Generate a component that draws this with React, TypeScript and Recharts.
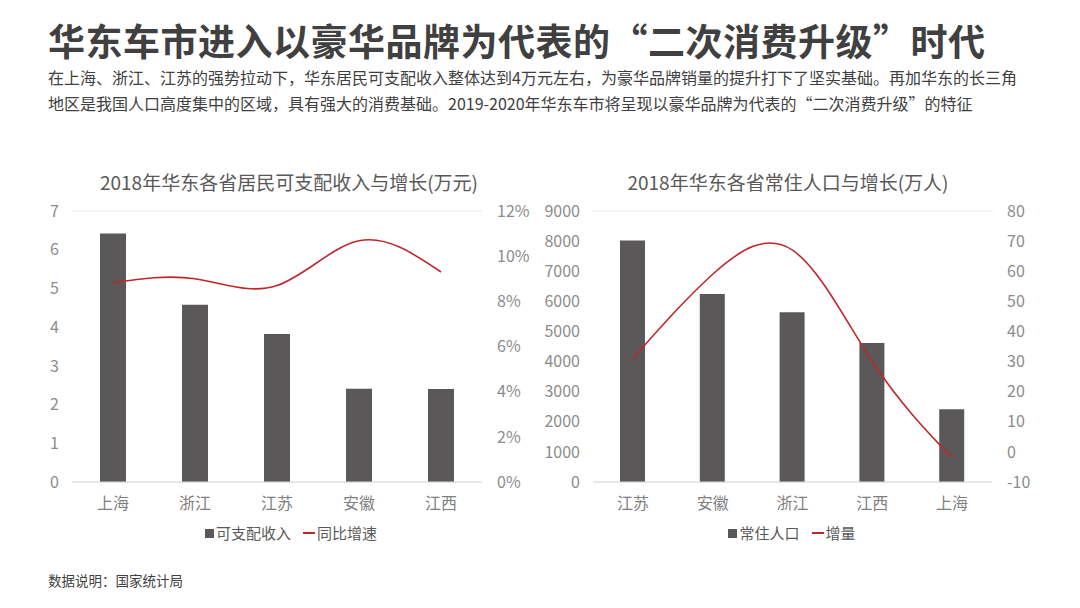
import React from "react";
import {
  ComposedChart,
  Bar,
  Line,
  XAxis,
  YAxis,
  CartesianGrid,
} from "recharts";

// 收入图
const incomeProvinces = ["上海", "浙江", "江苏", "安徽", "江西"];
const incomeValues = [6.42, 4.58, 3.82, 2.41, 2.4];
const incomeGrowth = [0.0882, 0.09, 0.087, 0.1068, 0.093];
const incomeTicks = [0, 1, 2, 3, 4, 5, 6, 7];
const growthTicks = [0, 0.02, 0.04, 0.06, 0.08, 0.1, 0.12];

// 人口图
const popProvinces = ["江苏", "安徽", "浙江", "江西", "上海"];
const popValues = [8020, 6240, 5640, 4620, 2420];
const popIncrease = [31, 59, 67, 30, -2];
const popTicks = [0, 1000, 2000, 3000, 4000, 5000, 6000, 7000, 8000, 9000];
const increaseTicks = [-10, 0, 10, 20, 30, 40, 50, 60, 70, 80];

const incomeData = incomeProvinces.map((p, i) => ({
  name: p,
  income: incomeValues[i],
  growth: incomeGrowth[i],
}));

const popData = popProvinces.map((p, i) => ({
  name: p,
  pop: popValues[i],
  inc: popIncrease[i],
}));

const FONT = '"Noto Sans CJK SC", "Noto Sans", sans-serif';
const BAR = "#5a5858";
const RED = "#c0272d";
const TICK = { fill: "#8c8c8c", fontSize: 16, fontFamily: FONT };
const XTICK = { fill: "#7f7f7f", fontSize: 16, fontFamily: FONT };

const ChartTitle = ({ text, cx }: { text: string; cx: number }) => (
  <div
    style={{
      position: "absolute",
      left: cx - 250,
      width: 500,
      top: 169,
      textAlign: "center",
      fontSize: 19,
      color: "#595959",
      lineHeight: "26px",
    }}
  >
    {text}
  </div>
);

const LegendBox = ({ cx, bar, line }: { cx: number; bar: string; line: string }) => (
  <div
    style={{
      position: "absolute",
      left: cx - 150,
      width: 300,
      top: 522,
      display: "flex",
      justifyContent: "center",
      alignItems: "center",
      fontSize: 15,
      color: "#595959",
      lineHeight: "22px",
    }}
  >
    <span style={{ width: 9, height: 9, background: BAR, marginRight: 2 }} />
    <span>{bar}</span>
    <span style={{ width: 12, height: 2, background: RED, marginLeft: 12, marginRight: 2 }} />
    <span>{line}</span>
  </div>
);

export default function App() {
  return (
    <div
      style={{
        position: "absolute",
        left: 0,
        top: 0,
        width: 1080,
        height: 608,
        background: "#ffffff",
        fontFamily: FONT,
        overflow: "hidden",
      }}
    >
      <div
        style={{
          position: "absolute",
          left: 48,
          top: 16,
          fontSize: 37,
          fontWeight: 700,
          color: "#404040",
          letterSpacing: 0.5,
          lineHeight: "48px",
          whiteSpace: "nowrap",
        }}
      >
        华东车市进入以豪华品牌为代表的“二次消费升级”时代
      </div>
      <div
        style={{
          position: "absolute",
          left: 48,
          top: 64,
          width: 1010,
          fontSize: 16,
          color: "#404040",
          lineHeight: "26px",
        }}
      >
        <div style={{ whiteSpace: "nowrap" }}>
          在上海、浙江、江苏的强势拉动下，华东居民可支配收入整体达到4万元左右，为豪华品牌销量的提升打下了坚实基础。再加华东的长三角
        </div>
        <div style={{ whiteSpace: "nowrap" }}>
          地区是我国人口高度集中的区域，具有强大的消费基础。2019-2020年华东车市将呈现以豪华品牌为代表的“二次消费升级”的特征
        </div>
      </div>

      <ChartTitle text="2018年华东各省居民可支配收入与增长(万元)" cx={289} />
      <ChartTitle text="2018年华东各省常住人口与增长(万人)" cx={788} />

      <div style={{ position: "absolute", left: 0, top: 0 }}>
        <ComposedChart
          width={540}
          height={560}
          data={incomeData}
          margin={{ top: 211, right: 8, left: 32, bottom: 48 }}
        >
          <CartesianGrid vertical={false} stroke="#ebebeb" />
          <XAxis
            dataKey="name"
            tick={XTICK}
            tickLine={false}
            axisLine={{ stroke: "#d9d9d9" }}
            tickMargin={10}
            height={30}
          />
          <YAxis
            yAxisId="l"
            domain={[0, 7]}
            ticks={incomeTicks}
            tick={TICK}
            tickLine={false}
            axisLine={false}
            tickMargin={7}
            width={40}
          />
          <YAxis
            yAxisId="r"
            orientation="right"
            domain={[0, 0.12]}
            ticks={growthTicks}
            tickFormatter={(v: number) => `${Math.round(v * 100)}%`}
            tick={TICK}
            tickLine={false}
            axisLine={false}
            tickMargin={9}
            width={50}
          />
          <Bar yAxisId="l" dataKey="income" fill={BAR} barSize={26} isAnimationActive={false} />
          <Line
            yAxisId="r"
            dataKey="growth"
            type="natural"
            stroke={RED}
            strokeWidth={1.6}
            dot={false}
            isAnimationActive={false}
          />
        </ComposedChart>
      </div>

      <div style={{ position: "absolute", left: 540, top: 0 }}>
        <ComposedChart
          width={540}
          height={560}
          data={popData}
          margin={{ top: 211, right: 48, left: 3, bottom: 48 }}
        >
          <CartesianGrid vertical={false} stroke="#ebebeb" />
          <XAxis
            dataKey="name"
            tick={XTICK}
            tickLine={false}
            axisLine={{ stroke: "#d9d9d9" }}
            tickMargin={10}
            height={30}
          />
          <YAxis
            yAxisId="l"
            domain={[0, 9000]}
            ticks={popTicks}
            tick={TICK}
            tickLine={false}
            axisLine={false}
            tickMargin={7}
            width={50}
          />
          <YAxis
            yAxisId="r"
            orientation="right"
            domain={[-10, 80]}
            ticks={increaseTicks}
            tick={TICK}
            tickLine={false}
            axisLine={false}
            tickMargin={9}
            width={40}
          />
          <Bar yAxisId="l" dataKey="pop" fill={BAR} barSize={25} isAnimationActive={false} />
          <Line
            yAxisId="r"
            dataKey="inc"
            type="natural"
            stroke={RED}
            strokeWidth={1.6}
            dot={false}
            isAnimationActive={false}
          />
        </ComposedChart>
      </div>

      <LegendBox cx={291} bar="可支配收入" line="同比增速" />
      <LegendBox cx={792} bar="常住人口" line="增量" />

      <div
        style={{
          position: "absolute",
          left: 48,
          top: 570,
          fontSize: 13.5,
          color: "#404040",
          lineHeight: "20px",
        }}
      >
        数据说明：国家统计局
      </div>
    </div>
  );
}
